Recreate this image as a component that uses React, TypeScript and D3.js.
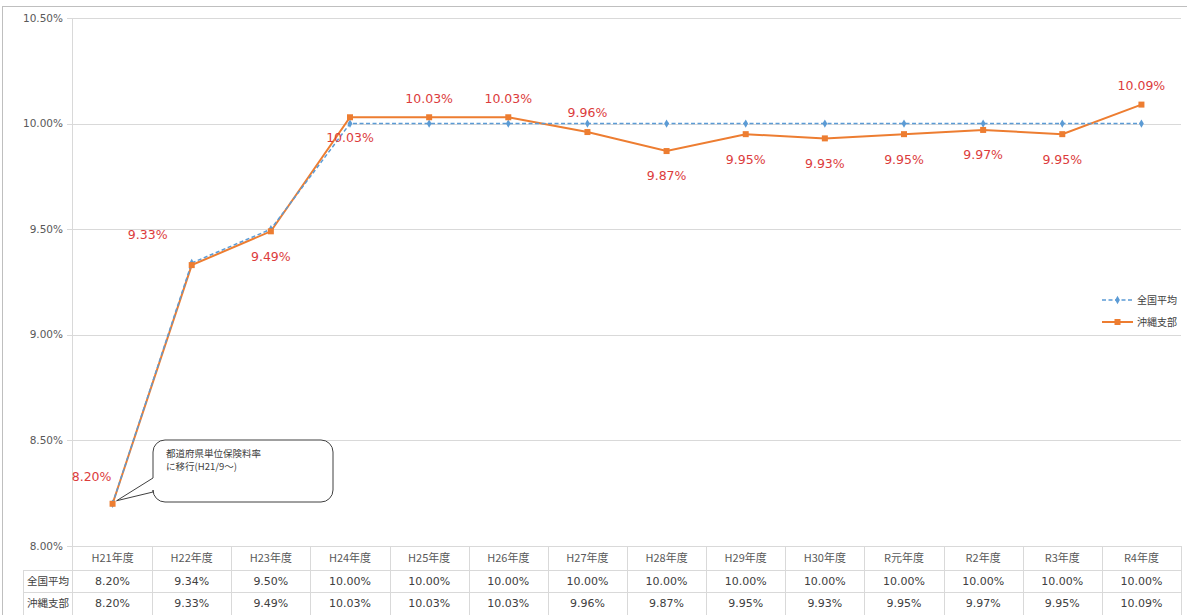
import React, { useEffect, useRef } from 'react';
import * as d3 from 'd3';

const categories = ['H21年度', 'H22年度', 'H23年度', 'H24年度', 'H25年度', 'H26年度', 'H27年度', 'H28年度', 'H29年度', 'H30年度', 'R元年度', 'R2年度', 'R3年度', 'R4年度'];
const nationalAvg = [8.2, 9.34, 9.5, 10.0, 10.0, 10.0, 10.0, 10.0, 10.0, 10.0, 10.0, 10.0, 10.0, 10.0];
const okinawa = [8.2, 9.33, 9.49, 10.03, 10.03, 10.03, 9.96, 9.87, 9.95, 9.93, 9.95, 9.97, 9.95, 10.09];
const yTicks = [8.0, 8.5, 9.0, 9.5, 10.0, 10.5];
const seriesNames = ['全国平均', '沖縄支部'];
// where each okinawa label sits relative to its point
const labelPos = ['left', 'leftUp', 'below', 'below', 'above', 'above', 'above', 'below', 'below', 'below', 'below', 'below', 'below', 'above'];
const calloutText = ['都道府県単位保険料率', 'に移行(H21/9～)'];

const W = 1187;
const H = 615;
const FONT = '"DejaVu Sans", "Noto Sans CJK JP", sans-serif';
const JP = '"Noto Sans CJK JP", "DejaVu Sans", sans-serif';

const App = () => {
  const svgRef = useRef<SVGSVGElement>(null);

  useEffect(() => {
    const svg = d3.select(svgRef.current);
    svg.selectAll('*').remove();

    const left = 73, right = 1181, top = 18, bottom = 546;
    const x = d3.scaleBand().domain(categories).range([left, right]);
    const cx = (c: string) => (x(c) as number) + x.bandwidth() / 2;
    const y = d3.scaleLinear().domain([8, 10.5]).range([bottom, top]);
    const pct = (v: number) => v.toFixed(2) + '%';

    // outer frame
    svg.append('rect')
      .attr('x', 2.5).attr('y', 6.5).attr('width', W + 10).attr('height', H + 10)
      .attr('fill', '#fff').attr('stroke', '#bfbfbf');

    // gridlines + y labels
    yTicks.forEach((t) => {
      svg.append('line')
        .attr('x1', left - 6).attr('x2', right)
        .attr('y1', Math.round(y(t)) + 0.5).attr('y2', Math.round(y(t)) + 0.5)
        .attr('stroke', '#d9d9d9').attr('stroke-width', 1);
      svg.append('text')
        .attr('x', 63).attr('y', y(t)).attr('dy', '0.35em')
        .attr('text-anchor', 'end')
        .style('font-family', FONT).style('font-size', '10.5px').style('fill', '#595959')
        .text(pct(t));
    });
    svg.append('line')
      .attr('x1', left - 0.5).attr('x2', left - 0.5).attr('y1', top).attr('y2', H)
      .attr('stroke', '#d9d9d9');

    // data table below the plot
    const rowH = [24, 22, 22];
    const rowY = [bottom, bottom + rowH[0], bottom + rowH[0] + rowH[1]];
    categories.forEach((c) => {
      const xb = (x(c) as number) + x.bandwidth();
      svg.append('line')
        .attr('x1', Math.round(xb) + 0.5).attr('x2', Math.round(xb) + 0.5)
        .attr('y1', bottom).attr('y2', H).attr('stroke', '#d9d9d9');
    });
    svg.append('line').attr('x1', 23.5).attr('x2', 23.5).attr('y1', rowY[1]).attr('y2', H).attr('stroke', '#d9d9d9');
    [rowY[1], rowY[2]].forEach((yy) => {
      svg.append('line').attr('x1', 23).attr('x2', right).attr('y1', yy + 0.5).attr('y2', yy + 0.5).attr('stroke', '#d9d9d9');
    });
    categories.forEach((c, i) => {
      svg.append('text').attr('x', cx(c)).attr('y', rowY[0] + rowH[0] / 2).attr('dy', '0.35em')
        .attr('text-anchor', 'middle').style('font-family', JP).style('font-size', '11px').style('fill', '#595959')
        .text(c);
      [nationalAvg, okinawa].forEach((s, k) => {
        svg.append('text').attr('x', cx(c)).attr('y', rowY[k + 1] + rowH[k + 1] / 2).attr('dy', '0.35em')
          .attr('text-anchor', 'middle').style('font-family', FONT).style('font-size', '11px').style('fill', '#404040')
          .text(pct(s[i]));
      });
    });
    seriesNames.forEach((n, k) => {
      svg.append('text').attr('x', 48).attr('y', rowY[k + 1] + rowH[k + 1] / 2).attr('dy', '0.35em')
        .attr('text-anchor', 'middle').style('font-family', JP).style('font-size', '10.5px').style('fill', '#404040')
        .text(n);
    });

    // callout (under the markers)
    const px0 = cx(categories[0]) + 4, py0 = y(okinawa[0]) - 3;
    const bx = 153, by = 440, bw = 180, bh = 62, r = 12;
    const p = d3.path();
    p.moveTo(bx + r, by);
    p.lineTo(bx + bw - r, by);
    p.arcTo(bx + bw, by, bx + bw, by + r, r);
    p.lineTo(bx + bw, by + bh - r);
    p.arcTo(bx + bw, by + bh, bx + bw - r, by + bh, r);
    p.lineTo(bx + r, by + bh);
    p.arcTo(bx, by + bh, bx, by + bh - r, r);
    p.lineTo(bx, by + 52);
    p.lineTo(px0, py0);
    p.lineTo(bx, by + 38);
    p.lineTo(bx, by + r);
    p.arcTo(bx, by, bx + r, by, r);
    p.closePath();
    svg.append('path').attr('d', p.toString()).attr('fill', '#fff').attr('stroke', '#404040').attr('stroke-width', 1);
    calloutText.forEach((t, k) => {
      svg.append('text').attr('x', 166).attr('y', 457 + k * 12.5)
        .style('font-family', JP).style('font-size', '9.5px').style('fill', '#404040')
        .text(t);
    });

    // lines
    const line = d3.line<number>().x((_, i) => cx(categories[i])).y((d) => y(d));
    svg.append('path').datum(okinawa).attr('d', line)
      .attr('fill', 'none').attr('stroke', '#ed7d31').attr('stroke-width', 2);
    svg.append('path').datum(nationalAvg).attr('d', line)
      .attr('fill', 'none').attr('stroke', '#5b9bd5').attr('stroke-width', 1.5).attr('stroke-dasharray', '4,2.5');

    const diamond = d3.symbol().type(d3.symbolDiamond).size(20);
    nationalAvg.forEach((v, i) => {
      svg.append('path').attr('d', diamond).attr('transform', `translate(${cx(categories[i])},${y(v)})`).attr('fill', '#5b9bd5');
    });
    okinawa.forEach((v, i) => {
      svg.append('rect').attr('x', cx(categories[i]) - 3).attr('y', y(v) - 3).attr('width', 6).attr('height', 6).attr('fill', '#ed7d31');
    });

    // data labels
    okinawa.forEach((v, i) => {
      const px = cx(categories[i]);
      const py = y(v);
      let lx = px, ly = py;
      if (labelPos[i] === 'above') ly = py - 19;
      else if (labelPos[i] === 'below') ly = py + (i === 3 ? 20 : 25);
      else if (labelPos[i] === 'left') { lx = px - 21; ly = py - 27; }
      else if (labelPos[i] === 'leftUp') { lx = px - 44; ly = py - 30; }
      svg.append('text').attr('x', lx).attr('y', ly).attr('dy', '0.35em')
        .attr('text-anchor', 'middle').style('font-family', FONT).style('font-size', '12.5px').style('fill', '#dc3c3c')
        .text(pct(v));
    });

    // legend
    const legY = [300, 322];
    seriesNames.forEach((n, k) => {
      const lg = svg.append('g');
      lg.append('line').attr('x1', 1102).attr('x2', 1133).attr('y1', legY[k]).attr('y2', legY[k])
        .attr('stroke', k === 0 ? '#5b9bd5' : '#ed7d31').attr('stroke-width', k === 0 ? 1.5 : 2)
        .attr('stroke-dasharray', k === 0 ? '4,2.5' : null);
      if (k === 0) lg.append('path').attr('d', diamond).attr('transform', `translate(1117.5,${legY[k]})`).attr('fill', '#5b9bd5');
      else lg.append('rect').attr('x', 1114.5).attr('y', legY[k] - 3).attr('width', 6).attr('height', 6).attr('fill', '#ed7d31');
      lg.append('text').attr('x', 1137).attr('y', legY[k]).attr('dy', '0.35em')
        .style('font-family', JP).style('font-size', '10px').style('fill', '#404040').text(n);
    });
  }, []);

  return <svg ref={svgRef} width={W} height={H} style={{ position: 'absolute', left: 0, top: 0, background: '#fff' }} />;
};

export default App;
